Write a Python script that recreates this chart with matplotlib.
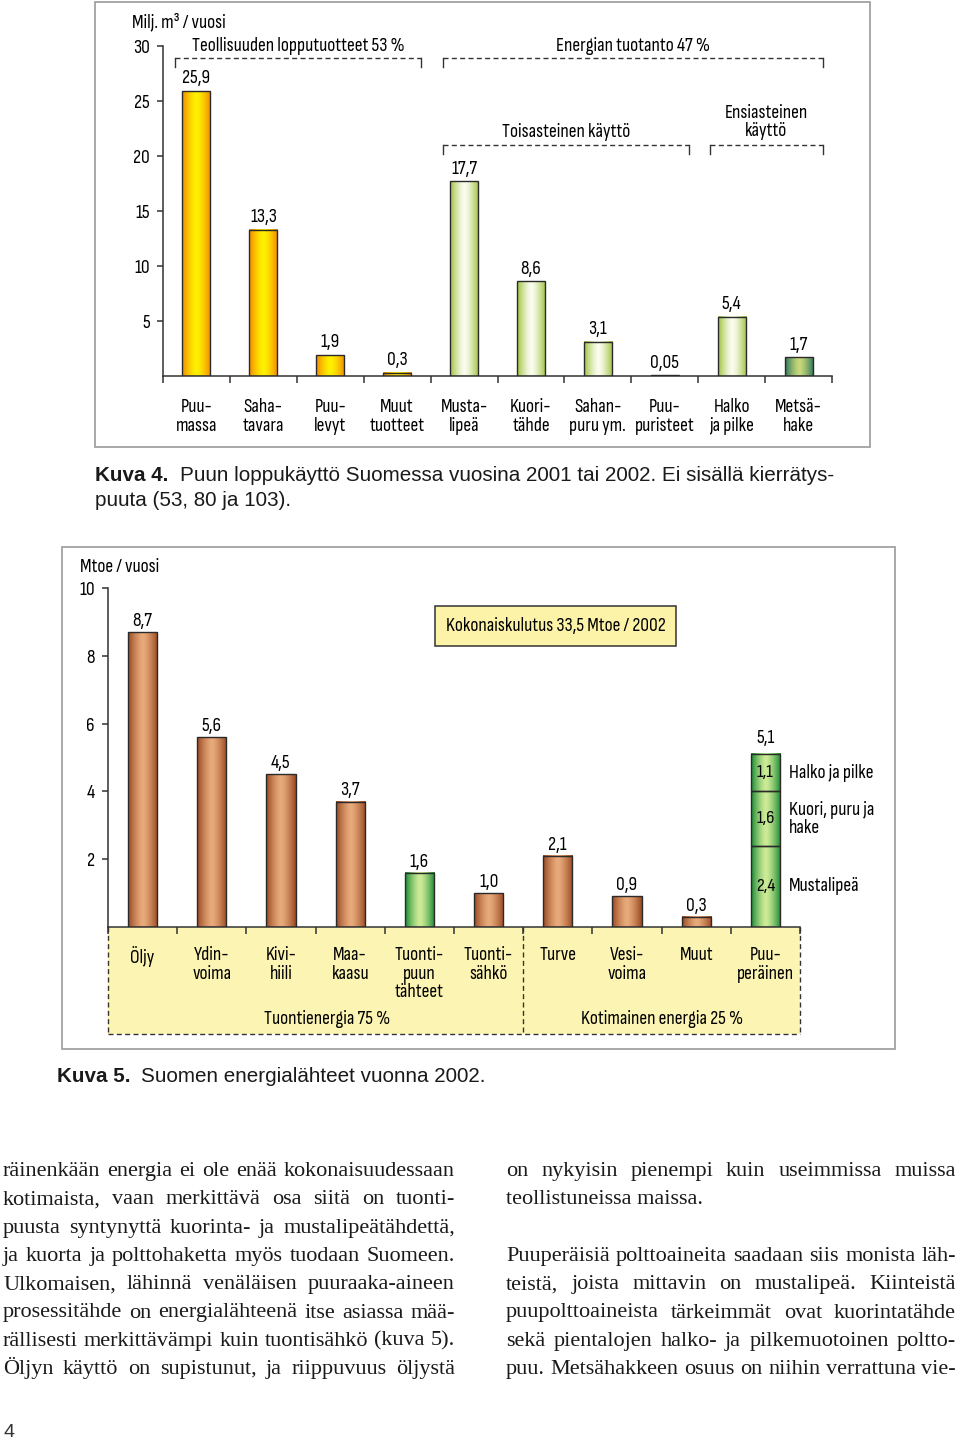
import numpy as np
import matplotlib
matplotlib.use('Agg')
import matplotlib.pyplot as plt
from matplotlib import font_manager
from matplotlib.colors import LinearSegmentedColormap
from matplotlib.patches import Rectangle

# kuva 4: puun loppukäyttö
wood_cats = ['Puu-\nmassa', 'Saha-\ntavara', 'Puu-\nlevyt', 'Muut\ntuotteet', 'Musta-\nlipeä',
             'Kuori-\ntähde', 'Sahan-\npuru ym.', 'Puu-\npuristeet', 'Halko\nja pilke', 'Metsä-\nhake']
wood_vals = [25.9, 13.3, 1.9, 0.3, 17.7, 8.6, 3.1, 0.05, 5.4, 1.7]
wood_kind = ['orange'] * 4 + ['lightgreen'] * 5 + ['teal']
wood_yticks = [5, 10, 15, 20, 25, 30]
# (teksti, ensimmäinen, viimeinen luokka, taso)
wood_groups = [('Teollisuuden lopputuotteet 53 %', 0, 3, 'top'),
               ('Energian tuotanto 47 %', 4, 9, 'top'),
               ('Toisasteinen käyttö', 4, 7, 'low'),
               ('Ensiasteinen\nkäyttö', 8, 9, 'low')]

# kuva 5: energialähteet
energy_cats = ['Öljy', 'Ydin-\nvoima', 'Kivi-\nhiili', 'Maa-\nkaasu', 'Tuonti-\npuun\ntähteet',
               'Tuonti-\nsähkö', 'Turve', 'Vesi-\nvoima', 'Muut', 'Puu-\nperäinen']
energy_vals = [8.7, 5.6, 4.5, 3.7, 1.6, 1.0, 2.1, 0.9, 0.3]
energy_kind = ['brown'] * 4 + ['green'] + ['brown'] * 4
wood_parts = ['Mustalipeä', 'Kuori, puru ja\nhake', 'Halko ja pilke']
wood_part_vals = [2.4, 1.6, 1.1]
energy_yticks = [2, 4, 6, 8, 10]
energy_groups = ['Tuontienergia 75 %', 'Kotimainen energia 25 %']
total_note = 'Kokonaiskulutus 33,5 Mtoe / 2002'

left_col = ['räinenkään energia ei ole enää kokonaisuudessaan',
            'kotimaista, vaan merkittävä osa siitä on tuonti-',
            'puusta syntynyttä kuorinta- ja mustalipeätähdettä,',
            'ja kuorta ja polttohaketta myös tuodaan Suomeen.',
            'Ulkomaisen, lähinnä venäläisen puuraaka-aineen',
            'prosessitähde on energialähteenä itse asiassa mää-',
            'rällisesti merkittävämpi kuin tuontisähkö (kuva 5).',
            'Öljyn käyttö on supistunut, ja riippuvuus öljystä']
right_col = ['on nykyisin pienempi kuin useimmissa muissa',
             'teollistuneissa maissa.',
             '',
             'Puuperäisiä polttoaineita saadaan siis monista läh-',
             'teistä, joista mittavin on mustalipeä. Kiinteistä',
             'puupolttoaineista tärkeimmät ovat kuorintatähde',
             'sekä pientalojen halko- ja pilkemuotoinen poltto-',
             'puu. Metsähakkeen osuus on niihin verrattuna vie-']

W, H = 960, 1440
SANS = ['Liberation Sans', 'DejaVu Sans']
SERIF = ['Liberation Serif', 'DejaVu Serif']

# kapea kirjasin, jos sellainen löytyy
narrow_file = None
for f in font_manager.fontManager.ttflist:
    tag = (f.name + ' ' + f.fname).lower()
    if ('narrow' in tag or 'condensed' in tag) and 'bold' not in tag and 'italic' not in tag \
            and 'oblique' not in tag and 'light' not in tag and 'semi' not in tag and 'extra' not in tag \
            and 'mono' not in tag and 'serif' not in tag.replace('sans', ''):
        if narrow_file is None or 'sans' in tag:
            narrow_file = f.fname
if narrow_file:
    NARROW = dict(fontproperties=font_manager.FontProperties(fname=narrow_file))
    NS = 14
else:
    NARROW = dict(fontfamily=['Roboto', 'DejaVu Sans'])
    NS = 11.5

grads = {
    'orange': ('#fff200', '#f28a00'),
    'lightgreen': ('#fbfdf0', '#9fc23e'),
    'teal': ('#c9d87a', '#2c7658'),
    'brown': ('#e8ab7c', '#9a4820'),
    'green': ('#cfec98', '#188a32'),
}
cmaps = {k: LinearSegmentedColormap.from_list(k, v) for k, v in grads.items()}
prof = (np.abs(np.linspace(-1, 1, 64)) ** 1.4)[None, :]


def fx(x):
    return x / W


def fy(y):
    return 1 - y / H


def ntext(obj, *args, size=None, **kw):
    t = obj.text(*args, **kw, **NARROW)
    t.set_fontsize(size or NS)
    return t


def grad_bar(ax, x, bottom, h, width, kind):
    ax.imshow(prof, cmap=cmaps[kind], vmin=0, vmax=1, aspect='auto', interpolation='bicubic',
              extent=[x - width / 2, x + width / 2, bottom, bottom + h], zorder=2)
    ax.bar(x, h, width, bottom=bottom, facecolor='none', edgecolor='#2a2a2a', linewidth=1, zorder=3)


def value_label(ax, x, y, s, dy):
    t = ax.annotate(s, (x, y), xytext=(0, dy), textcoords='offset points', ha='center',
                    va='baseline', annotation_clip=False, **NARROW)
    t.set_fontsize(NS)


def comma(v):
    return (f'{v:.2f}' if v < 0.1 else f'{v:.1f}').replace('.', ',')


def style_axes(ax, n, yticks):
    for s in ['top', 'right']:
        ax.spines[s].set_visible(False)
    for s in ['left', 'bottom']:
        ax.spines[s].set_color('#333333')
        ax.spines[s].set_linewidth(1.1)
    ax.set_xticks([])
    ax.set_xticks(np.arange(n + 1) - 0.5, minor=True)
    ax.tick_params(axis='x', which='minor', direction='out', length=5, width=1.1, color='#333333')
    ax.set_yticks(yticks)
    labels = ax.set_yticklabels([str(t) for t in yticks])
    for lab in labels:
        if 'fontproperties' in NARROW:
            lab.set_fontproperties(NARROW['fontproperties'])
        else:
            lab.set_fontfamily(NARROW['fontfamily'])
        lab.set_fontsize(NS)
    ax.tick_params(axis='y', direction='out', length=4.5, width=1.1, color='#333333', pad=5)
    ax.patch.set_alpha(0)


fig = plt.figure(figsize=(W / 100, H / 100), dpi=100)

# kehykset
for (x0, y0, x1, y1) in [(95, 2, 870, 447), (62, 547, 895, 1049)]:
    fig.add_artist(Rectangle((fx(x0), fy(y1)), fx(x1 - x0), (y1 - y0) / H, transform=fig.transFigure,
                             facecolor='none', edgecolor='#9a9a9a', linewidth=1.2))

# ---------- kuva 4 ----------
ax1 = fig.add_axes([fx(163), fy(376), fx(832 - 163), 330 / H])
bw = 0.42
for i, (v, k) in enumerate(zip(wood_vals, wood_kind)):
    grad_bar(ax1, i, 0, v, bw, k)
    value_label(ax1, i, v, comma(v), 5.5)
    ntext(ax1, i, -0.068, wood_cats[i], transform=ax1.get_xaxis_transform(), ha='center', va='top',
          linespacing=1.05)
style_axes(ax1, len(wood_cats), wood_yticks)
ax1.set_xlim(-0.5, len(wood_cats) - 0.5)
ax1.set_ylim(0, 30)

levels = {'top': (28.9, 30.0), 'low': (21.0, 22.2)}
for text, a, b, lev in wood_groups:
    yl, yt = levels[lev]
    xa, xb = a - 0.32, b + 0.36
    ax1.plot([xa, xb], [yl, yl], color='#333333', lw=1, ls=(0, (3.6, 2.4)), clip_on=False)
    for xe in (xa, xb):
        ax1.plot([xe, xe], [yl, yl - 0.8], color='#333333', lw=1, clip_on=False)
    nlines = text.count('\n')
    ntext(ax1, (xa + xb) / 2, yt + nlines * 0.85, text, ha='center', va='center',
          linespacing=1.0, clip_on=False)

ntext(fig, fx(132), fy(22), 'Milj. m³ / vuosi', ha='left', va='center')

# ---------- kuva 5 ----------
ax2 = fig.add_axes([fx(108), fy(927), fx(800 - 108), 339 / H])
bw2 = 0.42
for i, (v, k) in enumerate(zip(energy_vals, energy_kind)):
    grad_bar(ax2, i, 0, v, bw2, k)
    value_label(ax2, i, v, comma(v), 4.5)

iw = len(energy_vals)
bottom = 0
for part, v in zip(wood_parts, wood_part_vals):
    grad_bar(ax2, iw, bottom, v, bw2, 'green')
    ntext(ax2, iw, bottom + v / 2, comma(v), ha='center', va='center', size=NS - 0.5)
    t = ax2.annotate(part, (iw + bw2 / 2, bottom + v / 2), xytext=(6.5, 0), textcoords='offset points',
                     ha='left', va='center', linespacing=1.0, annotation_clip=False, **NARROW)
    t.set_fontsize(NS)
    bottom += v
value_label(ax2, iw, bottom, comma(sum(wood_part_vals)), 8)

style_axes(ax2, len(energy_cats), energy_yticks)
ax2.set_xlim(-0.5, len(energy_cats) - 0.5)
ax2.set_ylim(0, 10)

tr = ax2.get_xaxis_transform()
ybox = -107 / 339
n = len(energy_cats)
ax2.add_patch(Rectangle((-0.5, ybox), n, -ybox, transform=tr, facecolor='#fcf4b2', edgecolor='none',
                        zorder=0, clip_on=False))
for xe in (-0.5, 5.5, n - 0.5):
    ax2.plot([xe, xe], [0, ybox], transform=tr, color='#333333', lw=1, ls=(0, (3.6, 2.4)), clip_on=False)
ax2.plot([-0.5, n - 0.5], [ybox, ybox], transform=tr, color='#333333', lw=1, ls=(0, (3.6, 2.4)),
         clip_on=False)
for i, c in enumerate(energy_cats):
    ntext(ax2, i, -0.056, c, transform=tr, ha='center', va='top', linespacing=1.05)
for gx, g in zip([2.66, 7.5], energy_groups):
    ntext(ax2, gx, -0.271, g, transform=tr, ha='center', va='center')

ntext(ax2, 5.97, 8.88, total_note, ha='center', va='center',
      bbox=dict(boxstyle='square,pad=0.55', facecolor='#fcf2a8', edgecolor='#333333', linewidth=1.1))

ntext(fig, fx(80), fy(567), 'Mtoe / vuosi', ha='left', va='center')

# ---------- kuvatekstit ----------
cap = dict(fontsize=14.9, fontfamily=SANS, va='center', ha='left', color='#1a1a1a')
fig.text(fx(95), fy(476), 'Kuva 4.', fontweight='bold', **cap)
fig.text(fx(180), fy(476), 'Puun loppukäyttö Suomessa vuosina 2001 tai 2002. Ei sisällä kierrätys-', **cap)
fig.text(fx(95), fy(500), 'puuta (53, 80 ja 103).', **cap)
fig.text(fx(57), fy(1077), 'Kuva 5.', fontweight='bold', **cap)
fig.text(fx(141), fy(1077), 'Suomen energialähteet vuonna 2002.', **cap)

# ---------- leipäteksti ----------
body = dict(fontsize=16, fontfamily=SERIF, va='baseline', ha='left', color='#1a1a1a')
renderer = fig.canvas.get_renderer()


def justified(lines, x0, x1, y0, step, ragged):
    for i, line in enumerate(lines):
        if not line:
            continue
        y = fy(y0 + i * step)
        words = line.split(' ')
        if i in ragged:
            fig.text(fx(x0), y, line, **body)
            continue
        texts = [fig.text(0, y, w, **body) for w in words]
        widths = [t.get_window_extent(renderer).width for t in texts]
        gap = (x1 - x0 - sum(widths)) / (len(words) - 1)
        x = x0
        for t, w in zip(texts, widths):
            t.set_x(fx(x))
            x += w + gap


justified(left_col, 3, 455, 1176, 28.3, [])
justified(right_col, 506, 956, 1176, 28.3, [1])

fig.text(fx(3), fy(1437), '4', fontsize=14, fontfamily=SANS, va='baseline', ha='left', color='#333333')

fig.savefig('out.png', dpi=100)
